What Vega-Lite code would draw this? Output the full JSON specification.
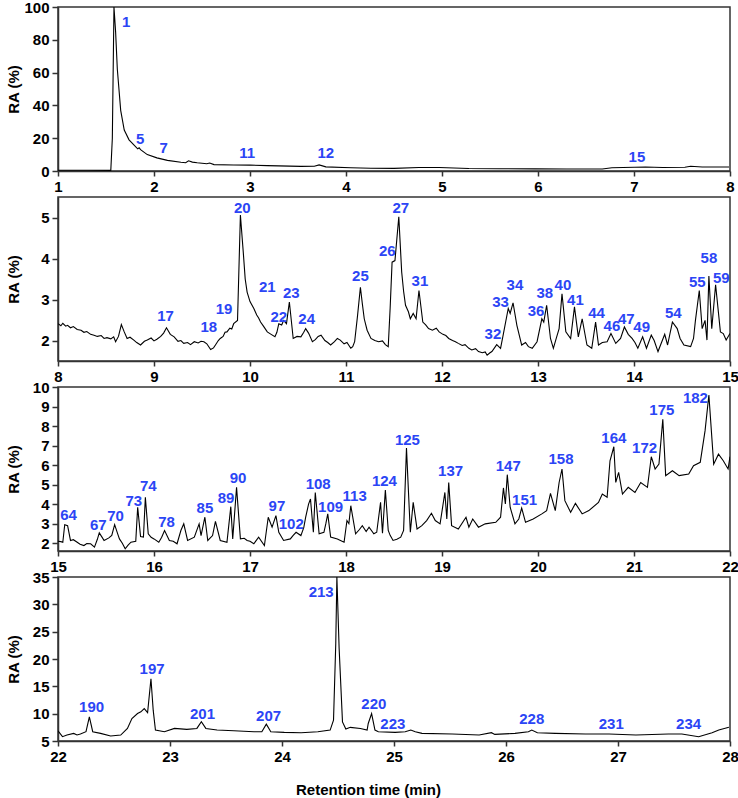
{
"$schema": "https://vega.github.io/schema/vega-lite/v6.json",
"background": "white",
"padding": {"left": 5, "top": -1, "right": 2, "bottom": 0},
"spacing": 26,
"bounds": "flush",
"config": {
"view": {"stroke": "#333", "strokeWidth": 1.5},
"axis": {"grid": false, "labelFont": "Liberation Sans", "labelFontWeight": "bold", "labelFontSize": 15, "labelColor": "black", "labelFlush": false, "labelOverlap": false, "labelBound": false, "domainColor": "#333", "domainWidth": 1.5, "tickColor": "#333", "tickWidth": 1.5, "titleFont": "Liberation Sans", "titleFontWeight": "bold", "titleFontSize": 15, "titleColor": "black"}
},
"datasets": {
"p1": [{"t":1.0,"y":0.5},{"t":1.3,"y":0.5},{"t":1.55,"y":0.4},{"t":1.566,"y":20},{"t":1.583,"y":100},{"t":1.6,"y":85},{"t":1.618,"y":62},{"t":1.653,"y":37},{"t":1.69,"y":25},{"t":1.74,"y":19},{"t":1.79,"y":16},{"t":1.83,"y":13.5},{"t":1.845,"y":14.2},{"t":1.86,"y":13.0},{"t":1.93,"y":10},{"t":2.03,"y":8},{"t":2.14,"y":6.5},{"t":2.28,"y":5.3},{"t":2.33,"y":5.0},{"t":2.36,"y":6.2},{"t":2.4,"y":5.4},{"t":2.45,"y":5.0},{"t":2.55,"y":4.4},{"t":2.58,"y":4.9},{"t":2.625,"y":3.9},{"t":2.83,"y":3.7},{"t":3.0,"y":3.6},{"t":3.18,"y":3.3},{"t":3.53,"y":2.8},{"t":3.67,"y":2.9},{"t":3.72,"y":3.7},{"t":3.79,"y":2.5},{"t":4.05,"y":2.0},{"t":4.26,"y":1.7},{"t":4.5,"y":1.6},{"t":4.76,"y":2.1},{"t":4.97,"y":2.1},{"t":5.28,"y":1.5},{"t":5.6,"y":1.4},{"t":5.97,"y":1.3},{"t":6.3,"y":1.2},{"t":6.67,"y":1.2},{"t":6.77,"y":2.0},{"t":7.12,"y":2.4},{"t":7.3,"y":2.1},{"t":7.53,"y":2.3},{"t":7.59,"y":2.9},{"t":7.71,"y":2.4},{"t":7.99,"y":2.4}],
"l1": [{"t":1.71,"y":91,"n":"1"},{"t":1.855,"y":19.4,"n":"5"},{"t":2.1,"y":14.3,"n":"7"},{"t":2.97,"y":11.2,"n":"11"},{"t":3.79,"y":11.2,"n":"12"},{"t":7.03,"y":8.6,"n":"15"}],
"p2": [{"t":8.0,"y":2.41},{"t":8.03,"y":2.36},{"t":8.05,"y":2.42},{"t":8.08,"y":2.35},{"t":8.1,"y":2.37},{"t":8.13,"y":2.31},{"t":8.16,"y":2.34},{"t":8.2,"y":2.27},{"t":8.24,"y":2.25},{"t":8.27,"y":2.2},{"t":8.3,"y":2.22},{"t":8.34,"y":2.15},{"t":8.375,"y":2.13},{"t":8.41,"y":2.1},{"t":8.45,"y":2.12},{"t":8.48,"y":2.05},{"t":8.51,"y":2.07},{"t":8.55,"y":2.04},{"t":8.58,"y":2.09},{"t":8.6,"y":1.97},{"t":8.63,"y":2.1},{"t":8.66,"y":2.39},{"t":8.69,"y":2.21},{"t":8.72,"y":2.05},{"t":8.75,"y":2.08},{"t":8.79,"y":2.01},{"t":8.82,"y":1.95},{"t":8.86,"y":1.89},{"t":8.9,"y":1.98},{"t":8.93,"y":2.01},{"t":8.97,"y":2.06},{"t":9.0,"y":1.99},{"t":9.03,"y":2.03},{"t":9.07,"y":2.1},{"t":9.1,"y":2.18},{"t":9.13,"y":2.31},{"t":9.17,"y":2.15},{"t":9.21,"y":2.09},{"t":9.25,"y":1.98},{"t":9.28,"y":2.0},{"t":9.31,"y":1.93},{"t":9.35,"y":1.95},{"t":9.38,"y":1.9},{"t":9.42,"y":1.97},{"t":9.46,"y":1.94},{"t":9.49,"y":1.98},{"t":9.52,"y":1.97},{"t":9.55,"y":1.92},{"t":9.59,"y":1.78},{"t":9.62,"y":1.82},{"t":9.64,"y":1.89},{"t":9.67,"y":2.0},{"t":9.69,"y":2.05},{"t":9.72,"y":2.1},{"t":9.74,"y":2.2},{"t":9.76,"y":2.21},{"t":9.79,"y":2.3},{"t":9.81,"y":2.28},{"t":9.83,"y":2.41},{"t":9.87,"y":2.49},{"t":9.9,"y":5.06},{"t":9.93,"y":4.15},{"t":9.95,"y":3.5},{"t":9.97,"y":3.18},{"t":10.0,"y":2.95},{"t":10.04,"y":2.78},{"t":10.07,"y":2.62},{"t":10.09,"y":2.55},{"t":10.11,"y":2.45},{"t":10.14,"y":2.35},{"t":10.18,"y":2.21},{"t":10.22,"y":2.15},{"t":10.26,"y":2.09},{"t":10.28,"y":2.2},{"t":10.3,"y":2.41},{"t":10.33,"y":2.38},{"t":10.35,"y":2.49},{"t":10.38,"y":2.41},{"t":10.41,"y":2.94},{"t":10.45,"y":2.05},{"t":10.49,"y":2.1},{"t":10.53,"y":2.09},{"t":10.56,"y":2.2},{"t":10.58,"y":2.29},{"t":10.61,"y":2.18},{"t":10.65,"y":1.97},{"t":10.68,"y":2.02},{"t":10.71,"y":2.1},{"t":10.74,"y":2.13},{"t":10.78,"y":2.0},{"t":10.81,"y":1.95},{"t":10.84,"y":1.89},{"t":10.88,"y":1.97},{"t":10.91,"y":2.05},{"t":10.94,"y":2.01},{"t":10.98,"y":1.92},{"t":11.01,"y":1.95},{"t":11.05,"y":1.81},{"t":11.07,"y":1.85},{"t":11.09,"y":1.97},{"t":11.12,"y":2.6},{"t":11.15,"y":3.3},{"t":11.17,"y":2.9},{"t":11.19,"y":2.53},{"t":11.22,"y":2.25},{"t":11.26,"y":2.05},{"t":11.3,"y":2.0},{"t":11.34,"y":1.97},{"t":11.38,"y":1.99},{"t":11.41,"y":1.9},{"t":11.44,"y":1.85},{"t":11.46,"y":2.8},{"t":11.48,"y":3.91},{"t":11.51,"y":3.95},{"t":11.55,"y":5.02},{"t":11.58,"y":3.67},{"t":11.6,"y":3.2},{"t":11.62,"y":2.86},{"t":11.65,"y":2.7},{"t":11.67,"y":2.53},{"t":11.7,"y":2.66},{"t":11.73,"y":2.53},{"t":11.76,"y":3.22},{"t":11.8,"y":2.45},{"t":11.83,"y":2.38},{"t":11.86,"y":2.29},{"t":11.9,"y":2.25},{"t":11.94,"y":2.3},{"t":11.97,"y":2.21},{"t":12.01,"y":2.15},{"t":12.04,"y":2.12},{"t":12.07,"y":2.05},{"t":12.11,"y":2.0},{"t":12.14,"y":1.97},{"t":12.17,"y":1.93},{"t":12.21,"y":1.88},{"t":12.24,"y":1.9},{"t":12.28,"y":1.81},{"t":12.31,"y":1.77},{"t":12.35,"y":1.8},{"t":12.38,"y":1.73},{"t":12.42,"y":1.7},{"t":12.45,"y":1.72},{"t":12.47,"y":1.64},{"t":12.5,"y":1.7},{"t":12.52,"y":1.73},{"t":12.57,"y":1.9},{"t":12.61,"y":1.81},{"t":12.64,"y":2.17},{"t":12.69,"y":2.78},{"t":12.71,"y":2.66},{"t":12.74,"y":2.92},{"t":12.78,"y":2.37},{"t":12.83,"y":1.89},{"t":12.87,"y":1.95},{"t":12.9,"y":1.85},{"t":12.94,"y":1.81},{"t":12.99,"y":1.97},{"t":13.04,"y":2.53},{"t":13.06,"y":2.45},{"t":13.09,"y":2.86},{"t":13.13,"y":2.05},{"t":13.16,"y":1.81},{"t":13.19,"y":2.05},{"t":13.22,"y":2.29},{"t":13.25,"y":3.14},{"t":13.29,"y":2.21},{"t":13.34,"y":2.05},{"t":13.38,"y":2.82},{"t":13.42,"y":2.09},{"t":13.46,"y":2.53},{"t":13.51,"y":1.89},{"t":13.56,"y":1.81},{"t":13.6,"y":2.45},{"t":13.63,"y":1.89},{"t":13.67,"y":1.95},{"t":13.72,"y":1.97},{"t":13.76,"y":2.17},{"t":13.81,"y":1.93},{"t":13.86,"y":2.05},{"t":13.9,"y":2.33},{"t":13.94,"y":2.15},{"t":13.98,"y":2.05},{"t":14.01,"y":1.95},{"t":14.04,"y":1.81},{"t":14.09,"y":2.09},{"t":14.13,"y":1.81},{"t":14.18,"y":2.13},{"t":14.21,"y":2.0},{"t":14.25,"y":1.73},{"t":14.32,"y":2.15},{"t":14.35,"y":1.89},{"t":14.4,"y":2.45},{"t":14.45,"y":2.29},{"t":14.48,"y":2.05},{"t":14.52,"y":1.89},{"t":14.59,"y":1.85},{"t":14.62,"y":2.05},{"t":14.64,"y":2.49},{"t":14.68,"y":3.22},{"t":14.71,"y":2.29},{"t":14.74,"y":2.49},{"t":14.76,"y":2.01},{"t":14.78,"y":3.57},{"t":14.81,"y":2.29},{"t":14.85,"y":3.36},{"t":14.9,"y":2.21},{"t":14.93,"y":2.17},{"t":14.96,"y":2.01},{"t":15.0,"y":2.17}],
"l2": [{"t":9.12,"y":2.6,"n":"17"},{"t":9.57,"y":2.33,"n":"18"},{"t":9.73,"y":2.78,"n":"19"},{"t":9.92,"y":5.24,"n":"20"},{"t":10.18,"y":3.3,"n":"21"},{"t":10.3,"y":2.57,"n":"22"},{"t":10.43,"y":3.16,"n":"23"},{"t":10.59,"y":2.52,"n":"24"},{"t":11.15,"y":3.57,"n":"25"},{"t":11.43,"y":4.19,"n":"26"},{"t":11.57,"y":5.22,"n":"27"},{"t":11.77,"y":3.46,"n":"31"},{"t":12.53,"y":2.17,"n":"32"},{"t":12.61,"y":2.95,"n":"33"},{"t":12.76,"y":3.36,"n":"34"},{"t":12.98,"y":2.71,"n":"36"},{"t":13.07,"y":3.16,"n":"38"},{"t":13.26,"y":3.36,"n":"40"},{"t":13.39,"y":2.98,"n":"41"},{"t":13.61,"y":2.67,"n":"44"},{"t":13.77,"y":2.35,"n":"46"},{"t":13.92,"y":2.53,"n":"47"},{"t":14.08,"y":2.32,"n":"49"},{"t":14.41,"y":2.67,"n":"54"},{"t":14.66,"y":3.42,"n":"55"},{"t":14.78,"y":4.01,"n":"58"},{"t":14.91,"y":3.52,"n":"59"}],
"p3": [{"t":15.0,"y":2.1},{"t":15.03,"y":2.08},{"t":15.05,"y":2.05},{"t":15.07,"y":2.95},{"t":15.1,"y":2.9},{"t":15.13,"y":2.14},{"t":15.16,"y":2.18},{"t":15.2,"y":2.05},{"t":15.23,"y":1.95},{"t":15.27,"y":1.88},{"t":15.3,"y":1.98},{"t":15.34,"y":1.97},{"t":15.38,"y":1.8},{"t":15.41,"y":2.2},{"t":15.43,"y":2.53},{"t":15.46,"y":2.3},{"t":15.48,"y":2.14},{"t":15.53,"y":2.27},{"t":15.56,"y":2.4},{"t":15.59,"y":2.95},{"t":15.62,"y":2.5},{"t":15.64,"y":2.22},{"t":15.67,"y":2.0},{"t":15.7,"y":1.71},{"t":15.73,"y":1.9},{"t":15.76,"y":2.05},{"t":15.81,"y":2.1},{"t":15.83,"y":3.84},{"t":15.86,"y":2.34},{"t":15.89,"y":2.31},{"t":15.91,"y":4.35},{"t":15.94,"y":2.48},{"t":15.97,"y":2.3},{"t":16.0,"y":2.22},{"t":16.05,"y":2.05},{"t":16.08,"y":2.3},{"t":16.11,"y":2.65},{"t":16.16,"y":2.14},{"t":16.2,"y":2.1},{"t":16.24,"y":1.97},{"t":16.28,"y":2.65},{"t":16.31,"y":2.99},{"t":16.35,"y":2.14},{"t":16.42,"y":2.31},{"t":16.47,"y":2.99},{"t":16.49,"y":2.39},{"t":16.53,"y":3.33},{"t":16.56,"y":2.14},{"t":16.61,"y":2.39},{"t":16.64,"y":3.12},{"t":16.69,"y":2.14},{"t":16.76,"y":2.05},{"t":16.8,"y":3.87},{"t":16.82,"y":2.22},{"t":16.86,"y":4.86},{"t":16.9,"y":2.22},{"t":16.94,"y":2.25},{"t":16.97,"y":2.14},{"t":17.0,"y":2.1},{"t":17.04,"y":1.97},{"t":17.09,"y":2.31},{"t":17.15,"y":1.88},{"t":17.19,"y":3.33},{"t":17.23,"y":2.82},{"t":17.27,"y":3.41},{"t":17.3,"y":2.56},{"t":17.35,"y":2.14},{"t":17.42,"y":2.22},{"t":17.45,"y":2.4},{"t":17.48,"y":2.56},{"t":17.53,"y":2.39},{"t":17.56,"y":2.8},{"t":17.58,"y":3.33},{"t":17.61,"y":4.0},{"t":17.63,"y":4.26},{"t":17.66,"y":2.56},{"t":17.68,"y":4.6},{"t":17.72,"y":2.48},{"t":17.77,"y":2.56},{"t":17.79,"y":3.0},{"t":17.81,"y":3.5},{"t":17.84,"y":2.31},{"t":17.91,"y":2.22},{"t":17.98,"y":2.05},{"t":18.01,"y":3.16},{"t":18.03,"y":3.0},{"t":18.05,"y":3.92},{"t":18.1,"y":2.48},{"t":18.14,"y":2.7},{"t":18.17,"y":2.9},{"t":18.21,"y":2.6},{"t":18.24,"y":2.82},{"t":18.29,"y":2.48},{"t":18.32,"y":2.56},{"t":18.36,"y":4.09},{"t":18.38,"y":2.51},{"t":18.41,"y":4.72},{"t":18.44,"y":2.65},{"t":18.46,"y":2.4},{"t":18.49,"y":2.14},{"t":18.53,"y":2.2},{"t":18.57,"y":2.31},{"t":18.6,"y":2.65},{"t":18.63,"y":6.87},{"t":18.67,"y":2.56},{"t":18.7,"y":4.09},{"t":18.74,"y":2.73},{"t":18.79,"y":2.9},{"t":18.84,"y":3.16},{"t":18.89,"y":3.53},{"t":18.93,"y":3.16},{"t":18.98,"y":2.99},{"t":19.03,"y":4.6},{"t":19.05,"y":3.24},{"t":19.07,"y":5.11},{"t":19.1,"y":2.9},{"t":19.17,"y":2.73},{"t":19.25,"y":3.33},{"t":19.28,"y":2.82},{"t":19.32,"y":3.24},{"t":19.38,"y":2.82},{"t":19.45,"y":2.99},{"t":19.56,"y":3.07},{"t":19.61,"y":3.33},{"t":19.64,"y":4.83},{"t":19.66,"y":4.01},{"t":19.68,"y":5.51},{"t":19.71,"y":3.84},{"t":19.76,"y":2.99},{"t":19.8,"y":3.24},{"t":19.83,"y":3.8},{"t":19.87,"y":3.07},{"t":19.95,"y":3.24},{"t":20.04,"y":3.5},{"t":20.09,"y":3.67},{"t":20.13,"y":4.55},{"t":20.18,"y":3.67},{"t":20.22,"y":5.11},{"t":20.25,"y":5.8},{"t":20.28,"y":4.18},{"t":20.34,"y":3.58},{"t":20.39,"y":4.04},{"t":20.46,"y":3.5},{"t":20.53,"y":3.67},{"t":20.63,"y":4.09},{"t":20.67,"y":4.52},{"t":20.72,"y":4.35},{"t":20.75,"y":6.22},{"t":20.79,"y":6.94},{"t":20.81,"y":5.11},{"t":20.84,"y":5.63},{"t":20.88,"y":4.52},{"t":20.94,"y":4.86},{"t":21.01,"y":4.6},{"t":21.07,"y":5.11},{"t":21.14,"y":4.86},{"t":21.18,"y":6.43},{"t":21.22,"y":5.8},{"t":21.26,"y":6.05},{"t":21.3,"y":8.35},{"t":21.33,"y":5.46},{"t":21.4,"y":5.71},{"t":21.47,"y":5.46},{"t":21.57,"y":5.54},{"t":21.62,"y":5.97},{"t":21.69,"y":6.14},{"t":21.74,"y":7.75},{"t":21.78,"y":9.59},{"t":21.83,"y":6.05},{"t":21.88,"y":6.56},{"t":21.93,"y":6.22},{"t":21.98,"y":5.8},{"t":22.0,"y":6.43}],
"l3": [{"t":15.11,"y":3.45,"n":"64"},{"t":15.42,"y":2.95,"n":"67"},{"t":15.6,"y":3.38,"n":"70"},{"t":15.79,"y":4.14,"n":"73"},{"t":15.94,"y":4.91,"n":"74"},{"t":16.13,"y":3.07,"n":"78"},{"t":16.53,"y":3.8,"n":"85"},{"t":16.75,"y":4.31,"n":"89"},{"t":16.875,"y":5.34,"n":"90"},{"t":17.28,"y":3.92,"n":"97"},{"t":17.43,"y":2.99,"n":"102"},{"t":17.71,"y":5.03,"n":"108"},{"t":17.84,"y":3.84,"n":"109"},{"t":18.09,"y":4.4,"n":"113"},{"t":18.4,"y":5.17,"n":"124"},{"t":18.64,"y":7.29,"n":"125"},{"t":19.09,"y":5.68,"n":"137"},{"t":19.69,"y":5.97,"n":"147"},{"t":19.86,"y":4.23,"n":"151"},{"t":20.24,"y":6.31,"n":"158"},{"t":20.79,"y":7.38,"n":"164"},{"t":21.11,"y":6.87,"n":"172"},{"t":21.29,"y":8.81,"n":"175"},{"t":21.64,"y":9.42,"n":"182"}],
"p4": [{"t":22.0,"y":6.88},{"t":22.04,"y":5.79},{"t":22.08,"y":6.09},{"t":22.14,"y":6.39},{"t":22.17,"y":6.1},{"t":22.2,"y":6.27},{"t":22.25,"y":6.7},{"t":22.28,"y":9.42},{"t":22.31,"y":6.7},{"t":22.38,"y":6.39},{"t":22.47,"y":5.91},{"t":22.56,"y":6.09},{"t":22.62,"y":7.3},{"t":22.66,"y":9.12},{"t":22.71,"y":10.03},{"t":22.74,"y":10.33},{"t":22.77,"y":10.94},{"t":22.8,"y":10.2},{"t":22.83,"y":16.4},{"t":22.85,"y":10.64},{"t":22.87,"y":7.0},{"t":22.95,"y":6.7},{"t":23.04,"y":7.3},{"t":23.15,"y":7.12},{"t":23.24,"y":7.3},{"t":23.28,"y":8.52},{"t":23.32,"y":7.3},{"t":23.42,"y":7.0},{"t":23.57,"y":6.88},{"t":23.75,"y":6.7},{"t":23.82,"y":6.7},{"t":23.86,"y":8.09},{"t":23.9,"y":6.7},{"t":24.02,"y":6.58},{"t":24.17,"y":6.52},{"t":24.32,"y":6.7},{"t":24.43,"y":7.0},{"t":24.46,"y":8.8},{"t":24.48,"y":22.8},{"t":24.49,"y":35},{"t":24.51,"y":22},{"t":24.54,"y":8.5},{"t":24.57,"y":7.2},{"t":24.61,"y":7.5},{"t":24.7,"y":7.3},{"t":24.76,"y":7.0},{"t":24.77,"y":8.2},{"t":24.8,"y":10.0},{"t":24.83,"y":7.0},{"t":24.86,"y":6.7},{"t":25.01,"y":6.58},{"t":25.1,"y":6.7},{"t":25.15,"y":7.0},{"t":25.19,"y":6.7},{"t":25.25,"y":6.39},{"t":25.52,"y":6.27},{"t":25.76,"y":6.09},{"t":25.87,"y":6.52},{"t":25.9,"y":6.21},{"t":26.08,"y":6.39},{"t":26.2,"y":6.7},{"t":26.23,"y":7.0},{"t":26.28,"y":6.52},{"t":26.44,"y":6.39},{"t":26.71,"y":6.27},{"t":26.92,"y":6.27},{"t":27.16,"y":6.09},{"t":27.45,"y":6.27},{"t":27.57,"y":6.27},{"t":27.72,"y":5.79},{"t":27.84,"y":6.52},{"t":27.9,"y":7.0},{"t":27.99,"y":7.5}],
"l4": [{"t":22.3,"y":11.24,"n":"190"},{"t":22.84,"y":18.1,"n":"197"},{"t":23.29,"y":10.0,"n":"201"},{"t":23.88,"y":9.6,"n":"207"},{"t":24.35,"y":32.3,"n":"213"},{"t":24.82,"y":11.85,"n":"220"},{"t":24.99,"y":8.2,"n":"223"},{"t":26.23,"y":8.94,"n":"228"},{"t":26.94,"y":8.1,"n":"231"},{"t":27.63,"y":8.1,"n":"234"}]
},
"vconcat": [
{"width": 672, "height": 164,
"encoding": {"x": {"field": "t", "type": "quantitative", "scale": {"domain": [1, 8], "nice": false}, "axis": {"values": [1,2,3,4,5,6,7,8], "format": "d", "title": null, "tickSize": 5, "labelPadding": 3}}, "y": {"field": "y", "type": "quantitative", "scale": {"domain": [0, 100], "nice": false}, "axis": {"values": [0,20,40,60,80,100], "format": "d", "title": "RA (%)", "titleX": -45, "titleBaseline": "middle", "tickSize": 6, "labelPadding": 3}}},
"layer": [
{"data": {"name": "p1"}, "mark": {"type": "line", "clip": true, "color": "black", "strokeWidth": 1.1}},
{"data": {"name": "l1"}, "mark": {"type": "text", "font": "Liberation Sans", "fontWeight": "bold", "fontSize": 15, "fill": "#2b45f5", "align": "center", "baseline": "middle"}, "encoding": {"text": {"field": "n"}}}
]},
{"width": 672, "height": 164,
"encoding": {"x": {"field": "t", "type": "quantitative", "scale": {"domain": [8, 15], "nice": false}, "axis": {"values": [8,9,10,11,12,13,14,15], "format": "d", "title": null, "tickSize": 5, "labelPadding": 3}}, "y": {"field": "y", "type": "quantitative", "scale": {"domain": [1.5, 5.5], "nice": false}, "axis": {"values": [2,3,4,5], "format": "d", "title": "RA (%)", "titleX": -45, "titleBaseline": "middle", "tickSize": 6, "labelPadding": 3}}},
"layer": [
{"data": {"name": "p2"}, "mark": {"type": "line", "clip": true, "color": "black", "strokeWidth": 1.1}},
{"data": {"name": "l2"}, "mark": {"type": "text", "font": "Liberation Sans", "fontWeight": "bold", "fontSize": 15, "fill": "#2b45f5", "align": "center", "baseline": "middle"}, "encoding": {"text": {"field": "n"}}}
]},
{"width": 672, "height": 164,
"encoding": {"x": {"field": "t", "type": "quantitative", "scale": {"domain": [15, 22], "nice": false}, "axis": {"values": [15,16,17,18,19,20,21,22], "format": "d", "title": null, "tickSize": 5, "labelPadding": 3}}, "y": {"field": "y", "type": "quantitative", "scale": {"domain": [1.6, 10], "nice": false}, "axis": {"values": [2,3,4,5,6,7,8,9,10], "format": "d", "title": "RA (%)", "titleX": -45, "titleBaseline": "middle", "tickSize": 6, "labelPadding": 3}}},
"layer": [
{"data": {"name": "p3"}, "mark": {"type": "line", "clip": true, "color": "black", "strokeWidth": 1.1}},
{"data": {"name": "l3"}, "mark": {"type": "text", "font": "Liberation Sans", "fontWeight": "bold", "fontSize": 15, "fill": "#2b45f5", "align": "center", "baseline": "middle"}, "encoding": {"text": {"field": "n"}}}
]},
{"width": 672, "height": 164,
"encoding": {"x": {"field": "t", "type": "quantitative", "scale": {"domain": [22, 28], "nice": false}, "axis": {"values": [22,23,24,25,26,27,28], "format": "d", "title": "Retention time (min)", "titleX": 310, "titleY": 48, "titleBaseline": "middle", "tickSize": 5, "labelPadding": 3}}, "y": {"field": "y", "type": "quantitative", "scale": {"domain": [5, 35], "nice": false}, "axis": {"values": [5,10,15,20,25,30,35], "format": "d", "title": "RA (%)", "titleX": -45, "titleBaseline": "middle", "tickSize": 6, "labelPadding": 3}}},
"layer": [
{"data": {"name": "p4"}, "mark": {"type": "line", "clip": true, "color": "black", "strokeWidth": 1.1}},
{"data": {"name": "l4"}, "mark": {"type": "text", "font": "Liberation Sans", "fontWeight": "bold", "fontSize": 15, "fill": "#2b45f5", "align": "center", "baseline": "middle"}, "encoding": {"text": {"field": "n"}}}
]}
]
}
